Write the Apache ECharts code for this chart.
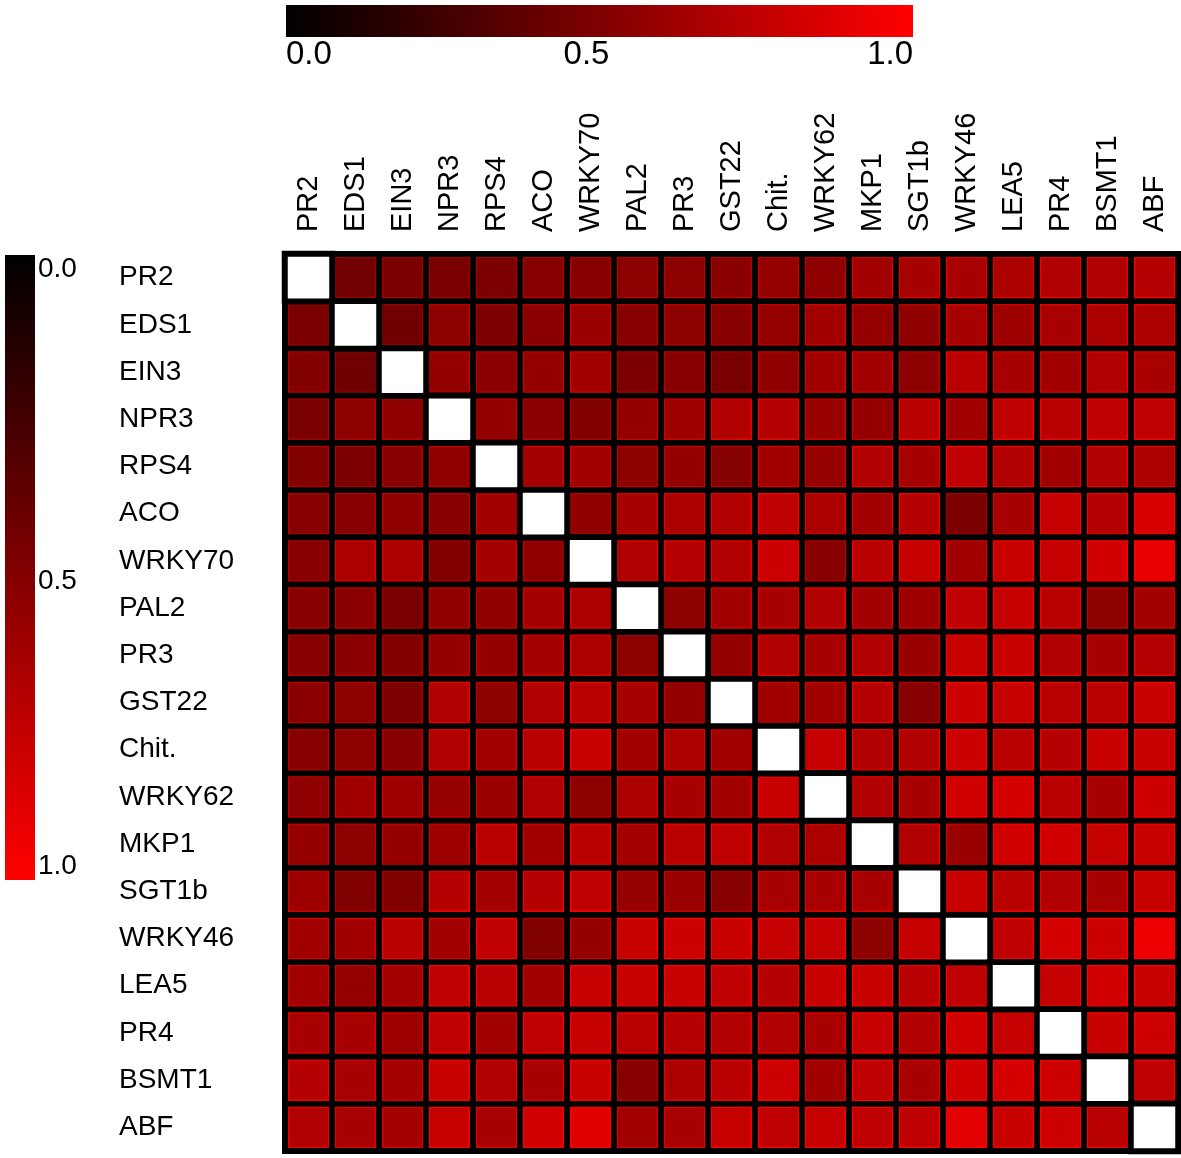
<!DOCTYPE html>
<html>
<head>
<meta charset="utf-8">
<script src="https://cdn.jsdelivr.net/npm/echarts@6/dist/echarts.min.js"></script>
<style>
  html, body { margin: 0; padding: 0; background: #fff; }
  #chart { width: 1181px; height: 1158px; }
</style>
</head>
<body>
<div id="chart"></div>
<script>
const genes = ['PR2', 'EDS1', 'EIN3', 'NPR3', 'RPS4', 'ACO', 'WRKY70', 'PAL2', 'PR3', 'GST22',
  'Chit.', 'WRKY62', 'MKP1', 'SGT1b', 'WRKY46', 'LEA5', 'PR4', 'BSMT1', 'ABF']

const scaleTicks = [0, 0.5, 1]

// one row per gene, null = the gene against itself (white)
const rowPR2    = [null, 0.45, 0.48, 0.47, 0.49, 0.53, 0.53, 0.55, 0.55, 0.54, 0.58, 0.56, 0.63, 0.65, 0.66, 0.67, 0.69, 0.69, 0.71]
const rowEDS1   = [0.48, null, 0.44, 0.55, 0.49, 0.54, 0.60, 0.53, 0.55, 0.53, 0.58, 0.63, 0.58, 0.56, 0.65, 0.61, 0.66, 0.67, 0.67]
const rowEIN3   = [0.51, 0.44, null, 0.58, 0.54, 0.58, 0.63, 0.49, 0.53, 0.47, 0.57, 0.63, 0.63, 0.55, 0.72, 0.65, 0.63, 0.69, 0.66]
const rowNPR3   = [0.47, 0.55, 0.56, null, 0.58, 0.54, 0.50, 0.58, 0.61, 0.69, 0.71, 0.60, 0.58, 0.72, 0.63, 0.75, 0.72, 0.75, 0.75]
const rowRPS4   = [0.51, 0.49, 0.53, 0.56, null, 0.64, 0.63, 0.55, 0.58, 0.52, 0.63, 0.59, 0.69, 0.65, 0.75, 0.69, 0.63, 0.69, 0.67]
const rowACO    = [0.53, 0.53, 0.56, 0.53, 0.63, null, 0.56, 0.65, 0.67, 0.69, 0.75, 0.67, 0.63, 0.71, 0.48, 0.65, 0.77, 0.71, 0.84]
const rowWRKY70 = [0.53, 0.67, 0.67, 0.50, 0.64, 0.56, null, 0.69, 0.71, 0.69, 0.80, 0.53, 0.72, 0.77, 0.63, 0.78, 0.77, 0.82, 0.91]
const rowPAL2   = [0.53, 0.54, 0.47, 0.57, 0.56, 0.64, 0.67, null, 0.55, 0.63, 0.66, 0.69, 0.63, 0.61, 0.75, 0.77, 0.72, 0.55, 0.63]
const rowPR3    = [0.53, 0.54, 0.50, 0.58, 0.58, 0.64, 0.67, 0.55, null, 0.58, 0.69, 0.65, 0.69, 0.60, 0.78, 0.78, 0.69, 0.66, 0.71]
const rowGST22  = [0.54, 0.55, 0.49, 0.69, 0.55, 0.69, 0.72, 0.65, 0.58, null, 0.63, 0.63, 0.71, 0.53, 0.80, 0.77, 0.72, 0.72, 0.78]
const rowChit   = [0.53, 0.55, 0.53, 0.69, 0.63, 0.72, 0.78, 0.63, 0.67, 0.63, null, 0.77, 0.69, 0.69, 0.80, 0.72, 0.71, 0.78, 0.78]
const rowWRKY62 = [0.56, 0.63, 0.61, 0.59, 0.60, 0.69, 0.55, 0.67, 0.66, 0.63, 0.78, null, 0.69, 0.66, 0.82, 0.83, 0.72, 0.66, 0.80]
const rowMKP1   = [0.58, 0.55, 0.58, 0.61, 0.72, 0.63, 0.72, 0.64, 0.72, 0.75, 0.69, 0.67, null, 0.69, 0.60, 0.82, 0.82, 0.77, 0.78]
const rowSGT1b  = [0.61, 0.50, 0.50, 0.71, 0.64, 0.71, 0.75, 0.59, 0.60, 0.53, 0.66, 0.66, 0.66, null, 0.78, 0.72, 0.69, 0.66, 0.78]
const rowWRKY46 = [0.63, 0.63, 0.72, 0.63, 0.75, 0.50, 0.58, 0.78, 0.80, 0.78, 0.77, 0.77, 0.55, 0.77, null, 0.75, 0.83, 0.80, 0.93]
const rowLEA5   = [0.63, 0.58, 0.64, 0.75, 0.72, 0.63, 0.77, 0.78, 0.78, 0.75, 0.71, 0.78, 0.78, 0.72, 0.75, null, 0.77, 0.82, 0.78]
const rowPR4    = [0.66, 0.66, 0.61, 0.75, 0.63, 0.75, 0.77, 0.72, 0.71, 0.69, 0.69, 0.66, 0.77, 0.69, 0.82, 0.77, null, 0.78, 0.80]
const rowBSMT1  = [0.71, 0.66, 0.64, 0.78, 0.69, 0.66, 0.78, 0.53, 0.67, 0.72, 0.80, 0.63, 0.74, 0.66, 0.82, 0.83, 0.80, null, 0.75]
const rowABF    = [0.69, 0.66, 0.64, 0.77, 0.66, 0.82, 0.88, 0.63, 0.66, 0.77, 0.75, 0.77, 0.75, 0.75, 0.89, 0.78, 0.80, 0.72, null]

const rows = [rowPR2, rowEDS1, rowEIN3, rowNPR3, rowRPS4, rowACO, rowWRKY70, rowPAL2, rowPR3, rowGST22,
  rowChit, rowWRKY62, rowMKP1, rowSGT1b, rowWRKY46, rowLEA5, rowPR4, rowBSMT1, rowABF]

const cells = []
const selfCells = []
rows.forEach((row, r) => {
  row.forEach((v, c) => {
    if (v === null) selfCells.push([c, r, 1])
    else cells.push([c, r, v])
  })
})

const labelFont = '"Liberation Sans", Arial, sans-serif'
const GAP = 3 // half of the black line between cells

// top bar: middle label sits a little left of the bar centre in the original
const topTickText = (v) => (v === 0.5 ? '{mid|0.5}' : v.toFixed(1))
const sideTickText = (v) => v.toFixed(1)

// coloured square inside each cell, with the slightly brighter rim of the original
function renderCell(params, api) {
  const p = api.coord([api.value(0), api.value(1)])
  const s = api.size([1, 1])
  const fill = api.visual('color')
  const rgb = echarts.color.parse(fill)
  const rim = 'rgb(' + Math.min(255, Math.round(rgb[0] * 1.3 + 8)) + ',0,0)'
  return {
    type: 'rect',
    shape: {
      x: p[0] - s[0] / 2 + GAP + 0.5,
      y: p[1] - s[1] / 2 + GAP + 0.5,
      width: s[0] - 2 * GAP - 1,
      height: s[1] - 2 * GAP - 1,
    },
    style: { fill: fill, stroke: rim, lineWidth: 1.2 },
  }
}

const chart = echarts.init(document.getElementById('chart'), null, { renderer: 'canvas' })
chart.setOption({
  backgroundColor: '#fff',
  animation: false,
  grid: [
    {
      left: 285, top: 254, width: 893, height: 897,
      show: true, backgroundColor: '#000', borderColor: '#000', borderWidth: 6,
    },
    {
      left: 286, top: 5, width: 627, height: 32, show: true, borderWidth: 0,
      backgroundColor: new echarts.graphic.LinearGradient(0, 0, 1, 0, [
        { offset: 0, color: '#000000' },
        { offset: 1, color: '#ff0000' },
      ]),
    },
    {
      left: 5, top: 255, width: 30, height: 625, show: true, borderWidth: 0,
      backgroundColor: new echarts.graphic.LinearGradient(0, 0, 0, 1, [
        { offset: 0, color: '#000000' },
        { offset: 1, color: '#ff0000' },
      ]),
    },
  ],
  xAxis: [
    {
      type: 'category',
      gridIndex: 0,
      data: genes,
      position: 'top',
      axisLine: { show: false },
      axisTick: { show: false },
      splitLine: { show: false },
      axisLabel: {
        interval: 0, rotate: -90, margin: 22,
        fontSize: 29, color: '#000', fontFamily: labelFont,
      },
    },
    {
      type: 'value',
      gridIndex: 1,
      min: 0, max: 1, interval: 0.5,
      axisLine: { show: false },
      axisTick: { show: false },
      splitLine: { show: false },
      axisLabel: {
        margin: 1, fontSize: 33, color: '#000', fontFamily: labelFont,
        alignMinLabel: 'left', alignMaxLabel: 'right',
        formatter: topTickText,
        rich: { mid: { fontSize: 33, fontFamily: labelFont, color: '#000', padding: [0, 26, 0, 0] } },
      },
    },
    { type: 'value', gridIndex: 2, show: false, min: 0, max: 1 },
  ],
  yAxis: [
    {
      type: 'category',
      gridIndex: 0,
      data: genes,
      inverse: true,
      axisLine: { show: false },
      axisTick: { show: false },
      splitLine: { show: false },
      axisLabel: {
        interval: 0, margin: 166, align: 'left',
        fontSize: 28, color: '#000', fontFamily: labelFont,
      },
    },
    { type: 'value', gridIndex: 1, show: false, min: 0, max: 1 },
    {
      type: 'value',
      gridIndex: 2,
      position: 'right',
      inverse: true,
      min: 0, max: 1, interval: 0.5,
      axisLine: { show: false },
      axisTick: { show: false },
      splitLine: { show: false },
      axisLabel: {
        margin: 3, fontSize: 28, color: '#000', fontFamily: labelFont,
        verticalAlign: 'top', verticalAlignMinLabel: 'top', verticalAlignMaxLabel: 'bottom',
        formatter: sideTickText,
      },
    },
  ],
  visualMap: {
    show: false,
    type: 'continuous',
    seriesIndex: 0,
    dimension: 2,
    min: scaleTicks[0],
    max: scaleTicks[scaleTicks.length - 1],
    inRange: { color: ['#000000', '#ff0000'] },
  },
  series: [
    {
      type: 'custom',
      xAxisIndex: 0,
      yAxisIndex: 0,
      data: cells,
      encode: { x: 0, y: 1 },
      renderItem: renderCell,
      silent: true,
    },
    {
      type: 'heatmap',
      xAxisIndex: 0,
      yAxisIndex: 0,
      data: selfCells,
      itemStyle: { color: '#ffffff', borderColor: '#000', borderWidth: 2 * GAP },
      emphasis: { disabled: true },
    },
  ],
})
</script>
</body>
</html>
